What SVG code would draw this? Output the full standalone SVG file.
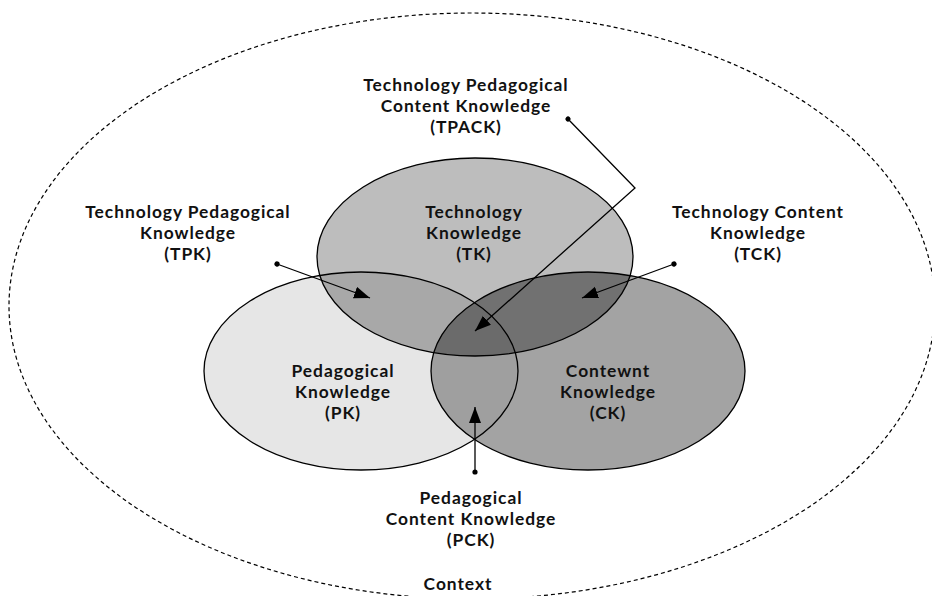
<svg xmlns="http://www.w3.org/2000/svg" width="932" height="596" viewBox="0 0 932 596">
  <style>
    .lbl { font-family: Lato, "Liberation Sans", sans-serif; font-weight: 700; font-size: 17.4px; letter-spacing: 0.95px; text-anchor: middle; fill: #111; }
    .outline { fill: none; stroke: #000; stroke-width: 1.3; }
    .context { fill: none; stroke: #000; stroke-width: 1.2; stroke-dasharray: 4 3; }
    .conn { fill: none; stroke: #000; stroke-width: 1.3; marker-start: url(#dot); marker-end: url(#head); }
  </style>
  <defs>
    <marker id="head" markerUnits="userSpaceOnUse" markerWidth="17" markerHeight="13" refX="16" refY="6" orient="auto">
      <path d="M0,0 L16,6 L0,12 z" fill="#000"/>
    </marker>
    <marker id="dot" markerUnits="userSpaceOnUse" markerWidth="7" markerHeight="7" refX="3.5" refY="3.5" orient="auto">
      <circle cx="3.5" cy="3.5" r="2.6" fill="#000"/>
    </marker>
    <clipPath id="clipPK"><ellipse cx="361" cy="371" rx="157" ry="99"/></clipPath>
    <clipPath id="clipCK"><ellipse cx="588" cy="371" rx="157" ry="99"/></clipPath>
  </defs>

  <rect width="932" height="596" fill="#fff"/>

  <!-- context boundary -->
  <g id="context">
    <ellipse class="context" cx="472" cy="306" rx="463" ry="293"/>
    <text class="lbl" x="458" y="590">Context</text>
  </g>

  <!-- shaded areas of the three circles and their overlaps -->
  <g id="regions">
    <ellipse cx="361" cy="371" rx="157" ry="99" fill="#e6e6e6"/>
    <ellipse cx="588" cy="371" rx="157" ry="99" fill="#a3a3a3"/>
    <ellipse cx="475" cy="257" rx="158" ry="99" fill="#bdbdbd"/>
    <ellipse cx="361" cy="371" rx="157" ry="99" fill="#9f9f9f" clip-path="url(#clipCK)"/>
    <ellipse cx="475" cy="257" rx="158" ry="99" fill="#a8a8a8" clip-path="url(#clipPK)"/>
    <ellipse cx="475" cy="257" rx="158" ry="99" fill="#717171" clip-path="url(#clipCK)"/>
    <g clip-path="url(#clipCK)">
      <ellipse cx="475" cy="257" rx="158" ry="99" fill="#6b6b6b" clip-path="url(#clipPK)"/>
    </g>
  </g>

  <g id="pk">
    <ellipse class="outline" cx="361" cy="371" rx="157" ry="99"/>
    <text class="lbl" x="343" y="377">Pedagogical</text>
    <text class="lbl" x="343" y="398">Knowledge</text>
    <text class="lbl" x="343" y="419">(PK)</text>
  </g>

  <g id="ck">
    <ellipse class="outline" cx="588" cy="371" rx="157" ry="99"/>
    <text class="lbl" x="608" y="377">Contewnt</text>
    <text class="lbl" x="608" y="398">Knowledge</text>
    <text class="lbl" x="608" y="419">(CK)</text>
  </g>

  <g id="tk">
    <ellipse class="outline" cx="475" cy="257" rx="158" ry="99"/>
    <text class="lbl" x="474" y="218">Technology</text>
    <text class="lbl" x="474" y="239">Knowledge</text>
    <text class="lbl" x="474" y="260">(TK)</text>
  </g>

  <g id="tpack">
    <text class="lbl" x="466" y="91">Technology Pedagogical</text>
    <text class="lbl" x="466" y="112">Content Knowledge</text>
    <text class="lbl" x="466" y="133">(TPACK)</text>
  </g>

  <g id="tpk">
    <text class="lbl" x="188" y="218">Technology Pedagogical</text>
    <text class="lbl" x="188" y="239">Knowledge</text>
    <text class="lbl" x="188" y="260">(TPK)</text>
  </g>

  <g id="tck">
    <text class="lbl" x="758" y="218">Technology Content</text>
    <text class="lbl" x="758" y="239">Knowledge</text>
    <text class="lbl" x="758" y="260">(TCK)</text>
  </g>

  <g id="pck">
    <text class="lbl" x="471" y="504">Pedagogical</text>
    <text class="lbl" x="471" y="525">Content Knowledge</text>
    <text class="lbl" x="471" y="546">(PCK)</text>
  </g>

  <!-- pointers from the labels into the overlap areas -->
  <g id="connectors">
    <path class="conn" d="M568,119 L635,188 L475,331"/>
    <path class="conn" d="M277,264 L370,298"/>
    <path class="conn" d="M674,264 L582,298"/>
    <path class="conn" d="M475,472 L475,407"/>
  </g>
</svg>
